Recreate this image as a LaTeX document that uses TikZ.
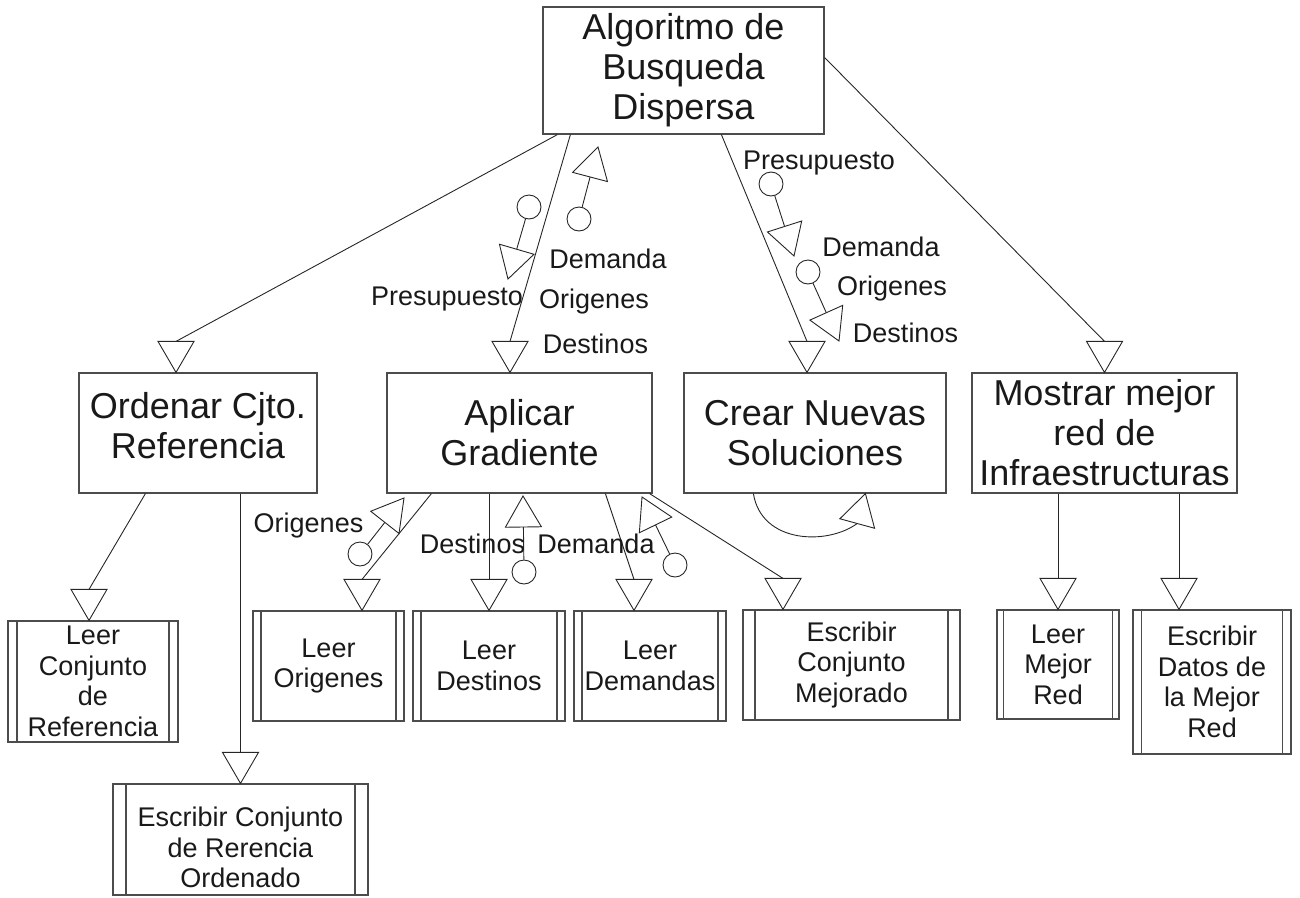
\documentclass[tikz,border=0pt]{standalone}
\usepackage{fontspec}
\setmainfont{Liberation Sans}
\usetikzlibrary{calc}

% call connector: line from #1 to an upright hollow triangle whose tip is #2
\newcommand\flowlink[2]{%
  \path (#2) ++(0,-31) coordinate (lnkbase);
  \draw[wire] (#1) -- (lnkbase);
  \draw[wire] (#2) -- ++(-18,-31) -- ++(36,0) -- cycle;}
% data couple: circle node #1, hollow triangle pointing at #2
\newcommand\flowcouple[2]{%
  \path ($(#2)!31pt!(#1)$) coordinate (cplbase);
  \draw[wire] (#1) -- (cplbase);
  \draw[wire] (#2) -- ($(cplbase)!18pt!90:(#2)$) -- ($(cplbase)!18pt!-90:(#2)$) -- cycle;}

\tikzset{
  wire/.style={line width=0.9pt, draw=black!85},
  bigbox/.style={draw=black!70, line width=1.2pt, align=center, inner sep=0pt,
    text=black!90, font=\fontsize{36}{40}\selectfont},
  proc/.style={draw=black!70, line width=1.2pt, align=center, inner sep=0pt,
    text=black!90, font=\fontsize{27}{30.5}\selectfont,
    path picture={\draw[draw=black!70, line width=1.2pt]
      ([xshift=#1]path picture bounding box.north west) -- ([xshift=#1]path picture bounding box.south west)
      ([xshift=-#1]path picture bounding box.north east) -- ([xshift=-#1]path picture bounding box.south east);}},
  cpl/.style={circle, draw=black!85, line width=0.9pt, minimum size=24pt, inner sep=0pt},
  flowlabel/.style={anchor=base, inner sep=0pt, text=black!90, font=\fontsize{27}{30.5}\selectfont}
}

\begin{document}
\begin{tikzpicture}[x=1pt, y=-1pt]
\useasboundingbox (0,0) rectangle (1300,897);

% modules
\node[bigbox, minimum width=281pt, minimum height=127pt] (algo) at (683.5,70.5) {Algoritmo de\\Busqueda\\Dispersa};
\node[bigbox, minimum width=238pt, minimum height=120pt] (ordenar) at (198,433) {Ordenar Cjto.\\Referencia\rule[-16pt]{0pt}{16pt}};
\node[bigbox, minimum width=265pt, minimum height=120pt] (aplicar) at (519.5,433) {Aplicar\\Gradiente};
\node[bigbox, minimum width=262pt, minimum height=120pt] (crear) at (815,433) {Crear Nuevas\\Soluciones};
\node[bigbox, minimum width=265pt, minimum height=120pt] (mostrar) at (1104.5,433) {Mostrar mejor\\red de\\Infraestructuras};

% predefined modules
\node[proc=9, minimum width=170pt, minimum height=121pt] (leerref) at (93,681.5) {Leer\\Conjunto\\de\\Referencia};
\node[proc=13, minimum width=255pt, minimum height=111pt] (escord) at (240.5,839.5) {\rule{0pt}{36pt}Escribir Conjunto\\de Rerencia\\Ordenado};
\node[proc=8, minimum width=151pt, minimum height=110pt] (leerori) at (328.5,666) {Leer\\Origenes};
\node[proc=8, minimum width=152pt, minimum height=110pt] (leerdes) at (489,666) {Leer\\Destinos};
\node[proc=8, minimum width=152pt, minimum height=110pt] (leerdem) at (650,666) {Leer\\Demandas};
\node[proc=12, minimum width=217pt, minimum height=110pt] (escmej) at (851.5,665) {Escribir\\Conjunto\\Mejorado};
\node[proc=6.5, minimum width=122pt, minimum height=109pt] (leermej) at (1058,664.5) {Leer\\Mejor\\Red};
\node[proc=8.5, minimum width=158pt, minimum height=144pt] (escdat) at (1212,682) {Escribir\\Datos de\\la Mejor\\Red};

% calls from the main module
\flowlink{[xshift=15]algo.south west}{[xshift=-22]ordenar.north}
\flowlink{[xshift=28]algo.south west}{[xshift=-9.5]aplicar.north}
\flowlink{[xshift=179]algo.south west}{[xshift=-8]crear.north}
\flowlink{[yshift=13]algo.east}{mostrar.north}

% calls from the second level
\flowlink{[xshift=67]ordenar.south west}{[xshift=-4]leerref.north}
\flowlink{escord.north |- ordenar.south}{escord.north}
\flowlink{[xshift=45]aplicar.south west}{[xshift=33.5]leerori.north}
\flowlink{leerdes.north |- aplicar.south}{leerdes.north}
\flowlink{[xshift=219]aplicar.south west}{[xshift=-16]leerdem.north}
\flowlink{[xshift=-3]aplicar.south east}{[xshift=-68.5]escmej.north}
\flowlink{leermej.north |- mostrar.south}{leermej.north}
\flowlink{[xshift=-33]escdat.north |- mostrar.south}{[xshift=-33]escdat.north}

% iteration loop on Crear Nuevas Soluciones
\coordinate (ltip) at ([xshift=182]crear.south west);
\coordinate (lref) at ($(ltip)+(-8.5,31)$);
\path ($(ltip)!31pt!(lref)$) coordinate (lbase);
\draw[wire] ([xshift=70]crear.south west) .. controls +(8,50) and +(-30,22) .. (lbase);
\draw[wire] (ltip) -- ($(lbase)!18pt!90:(ltip)$) -- ($(lbase)!18pt!-90:(ltip)$) -- cycle;

% couples between Algoritmo and Aplicar Gradiente
\node[cpl] (ca1) at (529,207) {};
\coordinate (ta1) at (508,279);
\flowcouple{ca1}{ta1}
\node[cpl] (ca2) at (579,219) {};
\coordinate (ta2) at (598,147);
\flowcouple{ca2}{ta2}
\node[flowlabel] (la1) at (447,305) {Presupuesto};
\node[flowlabel] (la2) at (608,268) {Demanda};
\node[flowlabel] (la3) at (594,308) {Origenes};
\node[flowlabel] (la4) at (595.5,353) {Destinos};

% couples between Algoritmo and Crear Nuevas Soluciones
\node[cpl] (cc1) at (771,184) {};
\coordinate (tc1) at (794,256);
\flowcouple{cc1}{tc1}
\node[cpl] (cc2) at (808,272) {};
\coordinate (tc2) at (839,341);
\flowcouple{cc2}{tc2}
\node[flowlabel] (lc1) at (819,169) {Presupuesto};
\node[flowlabel] (lc2) at (881,256) {Demanda};
\node[flowlabel] (lc3) at (892,295) {Origenes};
\node[flowlabel] (lc4) at (905.5,342) {Destinos};

% couples returned to Aplicar Gradiente
\node[cpl] (cg1) at (360,554) {};
\coordinate (tg1) at (404,498);
\flowcouple{cg1}{tg1}
\node[cpl] (cg2) at (524,572) {};
\coordinate (tg2) at (523,496);
\flowcouple{cg2}{tg2}
\node[cpl] (cg3) at (675,565) {};
\coordinate (tg3) at (642,497);
\flowcouple{cg3}{tg3}
\node[flowlabel] (lg1) at (308.5,532) {Origenes};
\node[flowlabel] (lg2) at (472.5,553) {Destinos};
\node[flowlabel] (lg3) at (596,553) {Demanda};
\end{tikzpicture}
\end{document}
